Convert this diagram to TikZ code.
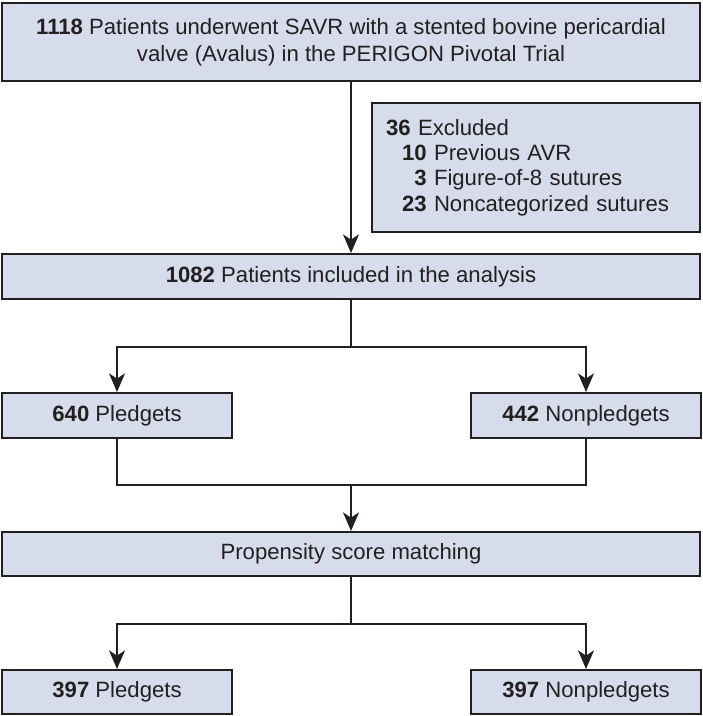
\documentclass[tikz,border=0pt]{standalone}
\usepackage{fontspec}
\setmainfont{Liberation Sans}
\usetikzlibrary{arrows.meta}
\definecolor{boxfill}{RGB}{214,220,235}
\definecolor{boxline}{RGB}{35,31,32}

\begin{document}
\begin{tikzpicture}[x=0.75pt,y=0.75pt,yscale=-1,xscale=1,
	box/.style={draw=boxline,fill=boxfill,line width=1.5pt,inner sep=0pt,text=boxline,
		font=\fontsize{16.6}{20.3}\selectfont,align=center},
	arr/.style={-{Stealth[length=14pt,width=12pt,inset=4pt]}},
	conn/.style={draw=boxline,line width=1.4pt}]
		%set diagram size to 702 x 716
		\useasboundingbox (0,0) rectangle (702,716);
		
		% Text Node
		\node [box,minimum width=698*0.75pt,minimum height=78*0.75pt] (total) at (351,42) {\textbf{1118} Patients underwent SAVR with a stented bovine pericardial\\valve (Avalus) in the PERIGON Pivotal Trial};
		% Text Node
		\node [box,minimum width=328*0.75pt,minimum height=129*0.75pt,align=left,text width=300*0.75pt,font=\fontsize{16.6}{19}\selectfont] (excl) at (536,167.5) {\textbf{36} Excluded\\\hspace*{12pt}\textbf{10} Previous AVR\\\hspace*{12pt}\textbf{\phantom{0}3} Figure-of-8 sutures\\\hspace*{12pt}\textbf{23} Noncategorized sutures};
		% Text Node
		\node [box,minimum width=698*0.75pt,minimum height=45*0.75pt] (incl) at (351,276.5) {\textbf{1082} Patients included in the analysis};
		% Text Node
		\node [box,minimum width=230*0.75pt,minimum height=45*0.75pt] (pled) at (117,415.5) {\textbf{640} Pledgets};
		% Text Node
		\node [box,minimum width=230*0.75pt,minimum height=45*0.75pt] (nonpled) at (586,415.5) {\textbf{442} Nonpledgets};
		% Text Node
		\node [box,minimum width=698*0.75pt,minimum height=44*0.75pt] (psm) at (351,554) {Propensity score matching};
		% Text Node
		\node [box,minimum width=230*0.75pt,minimum height=44*0.75pt] (pledm) at (117,692) {\textbf{397} Pledgets};
		% Text Node
		\node [box,minimum width=230*0.75pt,minimum height=44*0.75pt] (nonpledm) at (586,692) {\textbf{397} Nonpledgets};
		
		% Junctions
		\coordinate (split1) at (351,347);
		\coordinate (merge) at (351,485);
		\coordinate (split2) at (351,624);
		
		%Straight Lines
		\draw [conn,arr] (total) -- (incl);
		\draw [conn] (incl) -- (split1);
		\draw [conn,arr] (split1) -| (pled);
		\draw [conn,arr] (split1) -| (nonpled);
		\draw [conn] (pled) |- (merge);
		\draw [conn] (nonpled) |- (merge);
		\draw [conn,arr] (merge) -- (psm);
		\draw [conn] (psm) -- (split2);
		\draw [conn,arr] (split2) -| (pledm);
		\draw [conn,arr] (split2) -| (nonpledm);
		
\end{tikzpicture}
\end{document}
